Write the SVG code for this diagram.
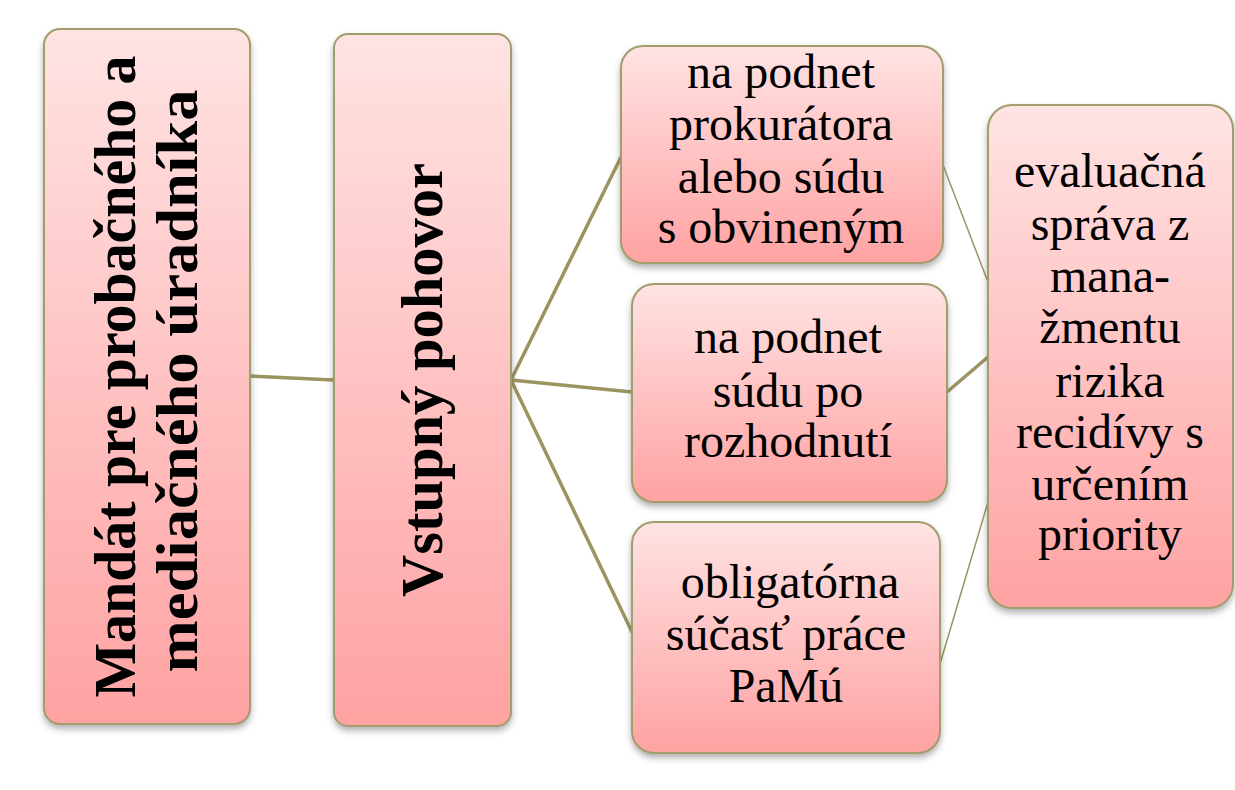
<svg xmlns="http://www.w3.org/2000/svg" width="1235" height="790" viewBox="0 0 1235 790">
<defs>
<linearGradient id="fill" x1="0" y1="0" x2="0" y2="1">
<stop offset="0" stop-color="#ffe3e3"/>
<stop offset="1" stop-color="#ffa2a2"/>
</linearGradient>
<filter id="sh" x="-10%" y="-10%" width="120%" height="120%">
<feDropShadow dx="0" dy="4" stdDeviation="3" flood-color="#555" flood-opacity="0.45"/>
</filter>
</defs>
<style>
.box{fill:url(#fill);stroke:#a39c6c;stroke-width:2;filter:url(#sh)}
.t{font-size:48px;fill:#000;text-anchor:middle}
.b{font-size:60px;font-weight:bold;fill:#000;text-anchor:middle}
.c{stroke:#9c9460;fill:none;stroke-linecap:round}
.thick{stroke-width:3.5}
.thin{stroke-width:1.5}
</style>
<rect width="1235" height="790" fill="#fff"/>
<g id="connectors">
<line class="c thick" x1="250" y1="376" x2="334" y2="380"/>
<line class="c thick" x1="511" y1="380" x2="621" y2="157"/>
<line class="c thick" x1="511" y1="380" x2="632" y2="392"/>
<line class="c thick" x1="511" y1="380" x2="632" y2="632"/>
<line class="c thin" x1="943" y1="165" x2="988" y2="282"/>
<line class="c thick" x1="947" y1="392" x2="988" y2="357"/>
<line class="c thin" x1="940" y1="664" x2="988" y2="502"/>
</g>
<g id="mandat">
<rect class="box" x="44" y="29" width="206" height="695" rx="16"/>
<text class="b" font-family="'Liberation Serif', 'DejaVu Serif', serif" transform="translate(147,0) rotate(-90)">
<tspan x="-369" y="-12" textLength="642" lengthAdjust="spacingAndGlyphs">Mandát pre probačného a</tspan>
<tspan x="-381" y="50" textLength="583" lengthAdjust="spacingAndGlyphs">mediačného úradníka</tspan>
</text>
</g>
<g id="pohovor">
<rect class="box" x="334" y="34" width="177" height="692" rx="14"/>
<text class="b" font-family="'Liberation Serif', 'DejaVu Serif', serif" transform="translate(422,0) rotate(-90)"><tspan x="-380" y="20" textLength="434" lengthAdjust="spacingAndGlyphs">Vstupný pohovor</tspan></text>
</g>
<g id="prokurator">
<rect class="box" x="621" y="46" width="322" height="217" rx="22"/>
<text class="t" font-family="'Liberation Serif', 'DejaVu Serif', serif"><tspan x="781" y="88">na podnet</tspan><tspan x="781" y="140">prokurátora</tspan><tspan x="781" y="193">alebo súdu</tspan><tspan x="781" y="243">s obvineným</tspan></text>
</g>
<g id="sud">
<rect class="box" x="632" y="284" width="315" height="218" rx="22"/>
<text class="t" font-family="'Liberation Serif', 'DejaVu Serif', serif"><tspan x="788" y="353">na podnet</tspan><tspan x="788" y="407">súdu po</tspan><tspan x="788" y="457">rozhodnutí</tspan></text>
</g>
<g id="obligatorna">
<rect class="box" x="632" y="522" width="308" height="231" rx="22"/>
<text class="t" font-family="'Liberation Serif', 'DejaVu Serif', serif"><tspan x="790" y="598">obligatórna</tspan><tspan x="786" y="650">súčasť práce</tspan><tspan x="786" y="702">PaMú</tspan></text>
</g>
<g id="evaluacna">
<rect class="box" x="988" y="105" width="245" height="503" rx="24"/>
<text class="t" font-family="'Liberation Serif', 'DejaVu Serif', serif"><tspan x="1110" y="187">evaluačná</tspan><tspan x="1110" y="240">správa z</tspan><tspan x="1110" y="292">mana-</tspan><tspan x="1110" y="343">žmentu</tspan><tspan x="1110" y="397">rizika</tspan><tspan x="1110" y="448">recidívy s</tspan><tspan x="1110" y="500">určením</tspan><tspan x="1110" y="550">priority</tspan></text>
</g>
</svg>
